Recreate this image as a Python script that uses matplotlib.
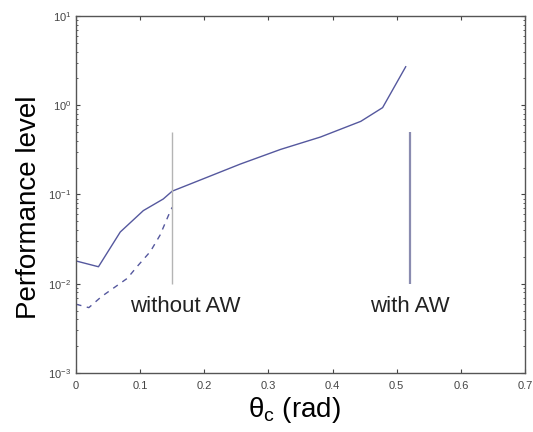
"""Performance level versus cone angle, with and without anti-windup."""

import matplotlib.pyplot as plt
from matplotlib.ticker import FixedLocator, LogLocator, NullFormatter

plt.rcParams["font.family"] = ["Liberation Sans", "DejaVu Sans"]

# solid: performance over the full angle range
theta_solid = [0.0, 0.035, 0.069, 0.105, 0.136, 0.15, 0.178, 0.256, 0.319,
               0.381, 0.444, 0.478, 0.514]
perf_solid = [0.018, 0.0155, 0.038, 0.066, 0.089, 0.109, 0.131, 0.219, 0.32,
              0.44, 0.66, 0.94, 2.7]

# dashed: lower branch up to the "without AW" limit
theta_dash = [0.0, 0.02, 0.04, 0.06, 0.08, 0.095, 0.116, 0.131, 0.144, 0.15]
perf_dash = [0.0059, 0.0054, 0.0072, 0.0091, 0.0115, 0.0155, 0.023, 0.035,
             0.058, 0.072]

# stability limits
limit_without = 0.15
limit_with = 0.52
limit_span = (0.01, 0.5)

xticks = [0, 0.1, 0.2, 0.3, 0.4, 0.5, 0.6, 0.7]
xticklabels = ["0", "0.1", "0.2", "0.3", "0.4", "0.5", "0.6", "0.7"]

fig = plt.figure(figsize=(5.33, 4.32), dpi=100)
ax = fig.add_axes([0.1426, 0.1366, 0.8424, 0.8264])

line_color = "#55589e"
ax.plot(theta_solid, perf_solid, color=line_color, lw=1.0)
ax.plot(theta_dash, perf_dash, color=line_color, lw=1.0, ls=(0, (4, 4)))

ax.vlines(limit_without, *limit_span, color="#b4b4b4", lw=1.0)
ax.vlines(limit_with, *limit_span, color="#8a8cb0", lw=1.6)

ax.text(0.084, 0.0056, "without AW", fontsize=16, va="center", ha="left",
        color="#222222")
ax.text(0.458, 0.0056, "with AW", fontsize=16, va="center", ha="left",
        color="#222222")

ax.set_yscale("log")
ax.set_xlim(0, 0.7)
ax.set_ylim(1e-3, 10)

ax.xaxis.set_major_locator(FixedLocator(xticks))
ax.set_xticklabels(xticklabels)
ax.yaxis.set_major_locator(LogLocator(base=10, numticks=10))
ax.yaxis.set_minor_locator(LogLocator(base=10, subs=range(2, 10), numticks=10))
ax.yaxis.set_minor_formatter(NullFormatter())

ax.tick_params(which="both", direction="in", top=True, right=True,
               labelsize=8, colors="#444444", length=3)
ax.tick_params(which="minor", length=1.5)
ax.tick_params(axis="x", pad=6)

for side in ax.spines.values():
    side.set_color("#555555")
    side.set_linewidth(1.0)

ax.set_ylabel("Performance level", fontsize=20)
ax.yaxis.set_label_coords(-0.075, 0.465)
ax.set_xlabel(r"$\mathregular{\theta_c}$ (rad)", fontsize=20)
ax.xaxis.set_label_coords(0.486, -0.062)

fig.savefig("out.png", dpi=100)
